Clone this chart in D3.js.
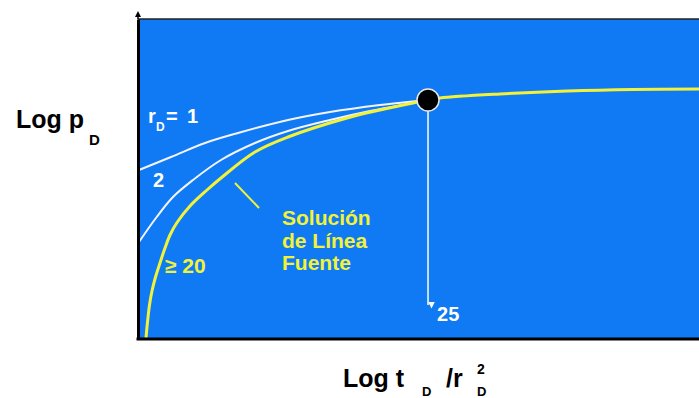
<!DOCTYPE html>
<html>
<head>
<meta charset="utf-8">
<script src="https://cdn.jsdelivr.net/npm/d3@7"></script>
<style>
  html, body { margin: 0; padding: 0; background: #fff; }
  svg { display: block; font-family: "Liberation Sans", Arial, sans-serif; font-weight: bold; }
</style>
</head>
<body>
<svg id="chart" width="699" height="398"></svg>
<script>
// Dimensionless pressure vs. dimensionless time (schematic log-log units)
// Line-source solution (r_D >= 20)
const lineSourceX = [0.125, 0.152, 0.1875, 0.232, 0.295, 0.375, 0.464, 0.554, 0.679, 0.911, 1.214, 1.464, 2.071, 2.661, 3.714, 4.304, 4.893, 5.161, 5.375, 6.446, 7.643, 8.821, 10];
const lineSourceY = [0.025, 0.425, 0.85, 1.2, 1.55, 1.9, 2.275, 2.6, 2.9125, 3.325, 3.725, 4.025, 4.675, 5.05, 5.525, 5.725, 5.9, 5.975, 6.025, 6.125, 6.2, 6.24, 6.25];
// r_D = 1
const rd1X = [0, 0.571, 1.179, 1.768, 2.661, 3.411, 4.304, 4.964, 5.161];
const rd1Y = [4.225, 4.55, 4.9, 5.15, 5.475, 5.675, 5.85, 5.95, 5.975];
// r_D = 2
const rd2X = [0, 0.316, 0.607, 0.964, 1.464, 2.071, 2.661, 3.411, 4.125, 4.661];
const rd2Y = [2.425, 3.05, 3.55, 3.975, 4.475, 4.9, 5.2, 5.475, 5.7, 5.84];
// Point where all curves join the line-source solution
const joinPoint = { x: 5.161, y: 5.975, arrowTo: 0.85, label: "25" };

const svg = d3.select("#chart");
const plotLeft = 139, plotRight = 699, plotTop = 19, plotBottom = 339;

const x = d3.scaleLinear().domain([0, 10]).range([plotLeft, plotRight]);
const y = d3.scaleLinear().domain([0, 8]).range([plotBottom, plotTop]);

const BLUE = "#0f7af3";
const YELLOW = "#f2f23a";

// plot background
svg.append("rect")
  .attr("x", plotLeft).attr("y", plotTop)
  .attr("width", plotRight - plotLeft).attr("height", plotBottom - plotTop)
  .attr("fill", BLUE);

// top border
svg.append("line")
  .attr("x1", plotLeft - 1).attr("x2", plotRight)
  .attr("y1", plotTop).attr("y2", plotTop)
  .attr("stroke", "#222").attr("stroke-width", 1.5);

const line = d3.line().x(d => x(d[0])).y(d => y(d[1])).curve(d3.curveCatmullRom.alpha(0.5));

// r_D = 1 and r_D = 2 curves
svg.append("path")
  .datum(d3.zip(rd1X, rd1Y))
  .attr("d", line)
  .attr("fill", "none").attr("stroke", "#f4f4ff").attr("stroke-width", 2);

svg.append("path")
  .datum(d3.zip(rd2X, rd2Y))
  .attr("d", line)
  .attr("fill", "none").attr("stroke", "#f4f4ff").attr("stroke-width", 2);

// line-source solution
svg.append("path")
  .datum(d3.zip(lineSourceX, lineSourceY))
  .attr("d", line)
  .attr("fill", "none").attr("stroke", YELLOW).attr("stroke-width", 3);

// vertical arrow from the joining point
svg.append("defs").append("marker")
  .attr("id", "arrowDown")
  .attr("viewBox", "0 0 10 10")
  .attr("refX", 5).attr("refY", 10)
  .attr("markerWidth", 7).attr("markerHeight", 7)
  .attr("markerUnits", "userSpaceOnUse")
  .attr("orient", "auto")
  .append("path").attr("d", "M0,0 L10,5 L0,10 Z").attr("fill", "#fff");

svg.append("line")
  .attr("x1", x(joinPoint.x)).attr("x2", x(joinPoint.x))
  .attr("y1", y(joinPoint.y) + 10).attr("y2", y(joinPoint.arrowTo))
  .attr("stroke", "#fff").attr("stroke-width", 1.5)
  .attr("marker-end", "url(#arrowDown)");

svg.append("circle")
  .attr("cx", x(joinPoint.x)).attr("cy", y(joinPoint.y))
  .attr("r", 11)
  .attr("fill", "#000").attr("stroke", "#e8e8e8").attr("stroke-width", 1.5);

svg.append("text")
  .attr("x", x(joinPoint.x) + 9).attr("y", 321)
  .attr("font-size", 20).attr("fill", "#fff")
  .text(joinPoint.label);

// axes (domain lines only)
const yAxis = svg.append("g")
  .attr("transform", `translate(${plotLeft - 1},0)`)
  .call(d3.axisLeft(y).tickValues([]).tickSizeOuter(0));
yAxis.select(".domain").attr("stroke", "#000").attr("stroke-width", 3);

const xAxis = svg.append("g")
  .attr("transform", `translate(0,${plotBottom})`)
  .call(d3.axisBottom(x).tickValues([]).tickSizeOuter(0));
xAxis.select(".domain").attr("stroke", "#000").attr("stroke-width", 3)
  .attr("d", `M${plotLeft - 2.5},0H${plotRight}`);

// small arrow on top of the y axis
svg.append("line")
  .attr("x1", plotLeft - 1).attr("x2", plotLeft - 1)
  .attr("y1", plotTop).attr("y2", 14)
  .attr("stroke", "#000").attr("stroke-width", 1.5);
svg.append("path")
  .attr("d", `M${plotLeft - 4},17 L${plotLeft - 1},11 L${plotLeft + 2},17 Z`)
  .attr("fill", "#000");

// curve labels
const rdLabel = svg.append("text").attr("fill", "#fff").attr("font-size", 20);
rdLabel.append("tspan").attr("x", 148).attr("y", 123).text("r");
rdLabel.append("tspan").attr("x", 156).attr("y", 131).attr("font-size", 12).text("D");
rdLabel.append("tspan").attr("x", 166).attr("y", 123).text("=");
rdLabel.append("tspan").attr("x", 187).attr("y", 123).text("1");

svg.append("text").attr("x", 153).attr("y", 187)
  .attr("fill", "#fff").attr("font-size", 20).text("2");

svg.append("text").attr("x", 165).attr("y", 273)
  .attr("fill", YELLOW).attr("font-size", 21).text("≥ 20");

// line-source annotation
svg.append("line")
  .attr("x1", 235).attr("y1", 183).attr("x2", 259).attr("y2", 208)
  .attr("stroke", YELLOW).attr("stroke-width", 2);

const lsText = svg.append("text").attr("fill", YELLOW).attr("font-size", 21);
["Solución", "de Línea", "Fuente"].forEach((t, i) => {
  lsText.append("tspan").attr("x", 282).attr("y", 225 + i * 22.5).text(t);
});

// axis titles
const yTitle = svg.append("text").attr("fill", "#000").attr("font-size", 25);
yTitle.append("tspan").attr("x", 16).attr("y", 128).text("Log p");
yTitle.append("tspan").attr("x", 89).attr("y", 145).attr("font-size", 15).text("D");

const xTitle = svg.append("text").attr("fill", "#000").attr("font-size", 25);
xTitle.append("tspan").attr("x", 343).attr("y", 387).text("Log t");
xTitle.append("tspan").attr("x", 422).attr("y", 395.5).attr("font-size", 13).text("D");
xTitle.append("tspan").attr("x", 446).attr("y", 387).text("/r");
xTitle.append("tspan").attr("x", 477).attr("y", 374).attr("font-size", 14).text("2");
xTitle.append("tspan").attr("x", 477).attr("y", 395.5).attr("font-size", 13).text("D");
</script>
</body>
</html>
